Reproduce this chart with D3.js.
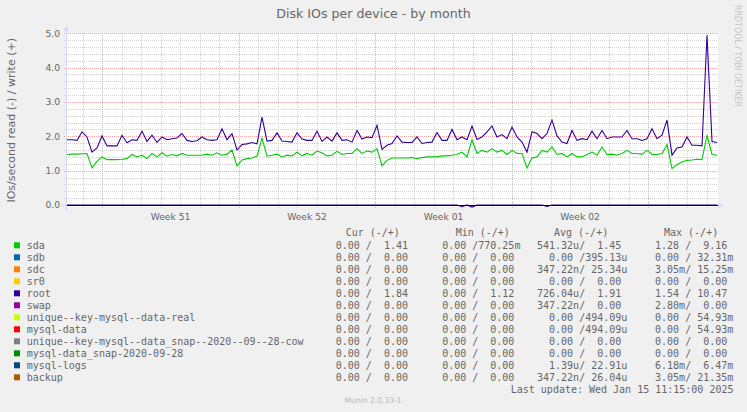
<!DOCTYPE html>
<html><head><meta charset="utf-8">
<script src="https://cdn.jsdelivr.net/npm/d3@7"></script>
<style>html,body{margin:0;padding:0;background:#F0F0F0;} svg{display:block;}</style>
</head><body><svg id="c" width="747" height="412"></svg>
<script>
const title = "Disk IOs per device - by month";
const yLabel = "IOs/second read (-) / write (+)";
const watermark = "RRDTOOL / TOBI OETIKER";
const version = "Munin 2.0.33-1";
const lastUpdate = "Last update: Wed Jan 15 11:15:00 2025";
const startTime = Date.UTC(2024, 11, 14, 4, 33);
const endTime = Date.UTC(2025, 0, 16, 12, 33);
const yTicks = [0, 1, 2, 3, 4, 5];
const yTickLabels = ["0.0", "1.0", "2.0", "3.0", "4.0", "5.0"];
const weekStarts = [Date.UTC(2024, 11, 16), Date.UTC(2024, 11, 23), Date.UTC(2024, 11, 30), Date.UTC(2025, 0, 6)];
const weekLabels = ["Week 51", "Week 52", "Week 01", "Week 02"];

// write (+) values, evenly spaced samples across the month
const sdaWrite = [
1.47,1.48,1.48,1.49,1.50,1.08,1.27,1.40,1.32,1.32,1.32,1.33,1.35,1.47,1.40,1.45,1.35,1.50,1.40,1.52,1.42,1.47,1.43,1.50,1.45,1.45,1.45,1.45,1.48,1.45,1.52,1.45,1.48,
1.60,1.14,1.31,1.35,1.37,1.42,1.95,1.42,1.45,1.48,1.40,1.45,1.43,1.54,1.43,1.50,1.45,1.57,1.52,1.43,1.45,1.56,1.47,1.50,1.50,1.64,1.50,1.57,1.54,1.64,1.14,1.30,1.37,
1.37,1.37,1.37,1.38,1.35,1.38,1.40,1.40,1.40,1.43,1.43,1.45,1.47,1.54,1.40,1.90,1.50,1.59,1.54,1.64,1.54,1.59,1.47,1.59,1.50,1.50,1.08,1.37,1.40,1.59,1.54,1.69,
1.47,1.50,1.40,1.50,1.40,1.40,1.47,1.54,1.45,1.69,1.47,1.48,1.45,1.50,1.59,1.50,1.50,1.48,1.59,1.47,1.47,1.50,1.76,1.06,1.18,1.25,1.30,1.31,1.33,1.32,2.03,1.47,1.45
];
const rootWrite = [
1.90,1.90,1.88,2.13,1.98,1.54,1.66,2.01,1.72,1.72,1.72,2.03,1.81,1.90,1.88,2.15,1.85,2.03,1.82,1.98,1.90,1.93,1.95,2.08,1.88,1.85,1.87,1.98,1.90,1.88,1.90,2.22,1.90,
2.08,1.60,1.76,1.78,1.82,1.78,2.56,1.86,1.88,2.10,1.86,1.85,1.83,2.10,1.92,1.88,1.88,2.15,1.85,1.98,1.86,2.10,1.88,1.90,1.83,2.17,1.92,1.98,1.96,2.32,1.62,1.74,1.79,
2.01,1.83,1.82,1.82,1.98,1.79,1.82,1.83,2.11,1.88,1.88,2.20,1.90,1.98,1.90,2.30,1.91,1.98,2.13,2.30,1.98,2.05,1.93,2.27,1.98,1.83,1.54,2.13,2.08,1.93,2.08,2.47,
2.01,1.83,1.79,2.17,1.88,1.93,1.90,2.15,1.93,2.17,1.93,1.98,1.98,1.98,2.17,1.93,1.93,1.88,1.93,2.22,1.93,2.03,2.47,1.45,1.66,1.69,1.98,1.74,1.74,1.72,4.94,1.85,1.82
];
// read (-) values: sample index, value (zero elsewhere)
const rootRead = [[79, 0.05], [81, 0.06], [96, 0.04]];

const devices = ["sda","sdb","sdc","sr0","root","swap","unique--key-mysql--data-real","mysql-data",
  "unique--key-mysql--data_snap--2020--09--28-cow","mysql-data_snap-2020-09-28","mysql-logs","backup"];
const colors = ["#00CC00","#0066B3","#FF8000","#FFCC00","#330099","#990099","#CCFF00","#FF0000",
  "#808080","#008F00","#00487D","#B35A00"];
const curRead  = [0,0,0,0,0,0,0,0,0,0,0,0];
const curWrite = [1.41,0,0,0,1.84,0,0,0,0,0,0,0];
const minRead  = [0,0,0,0,0,0,0,0,0,0,0,0];
const minWrite = [0.77025,0,0,0,1.12,0,0,0,0,0,0,0];
const avgRead  = [541.32e-6,0,347.22e-9,0,726.04e-6,347.22e-9,0,0,0,0,1.39e-6,347.22e-9];
const avgWrite = [1.45,395.13e-6,25.34e-6,0,1.91,0,494.09e-6,494.09e-6,0,0,22.91e-6,26.04e-6];
const maxRead  = [1.28,0,3.05e-3,0,1.54,2.80e-3,0,0,0,0,6.18e-3,3.05e-3];
const maxWrite = [9.16,32.31e-3,15.25e-3,0,10.47,0,54.93e-3,54.93e-3,0,0,6.47e-3,21.35e-3];
const statHeaders = ["Cur (-/+)","Min (-/+)","Avg (-/+)","Max (-/+)"];

const N = sdaWrite.length;
const times = d3.range(N).map(i => new Date(startTime + i * (endTime - startTime) / (N - 1)));

const svg = d3.select("#c");
const FONT = "#666666";
svg.append("rect").attr("width", 747).attr("height", 412).attr("fill", "#F0F0F0");

const x = d3.scaleUtc().domain([startTime, endTime]).range([67, 717]);
const y = d3.scaleLinear().domain([0, 5]).range([205, 33.2]);

svg.append("rect").attr("x", 67).attr("y", 33).attr("width", 651).attr("height", 174).attr("fill", "#fff");

const px = v => Math.round(v) + 0.5;
const MINOR = "#d2d2d2", MAJOR = "#EDA8A8";
// minor horizontal grid
const minorY = y.ticks(25).filter(v => Math.abs(v - Math.round(v)) > 1e-6);
svg.append("g").selectAll("line").data(minorY).join("line")
  .attr("x1", 64).attr("x2", 718).attr("y1", d => px(y(d))).attr("y2", d => px(y(d)))
  .attr("stroke", MINOR).attr("stroke-dasharray", "1,1");
// day grid
const days = d3.utcDay.range(new Date(startTime), new Date(endTime)).filter(d => d.getUTCDay() !== 1);
svg.append("g").selectAll("line").data(days).join("line")
  .attr("x1", d => px(x(d))).attr("x2", d => px(x(d))).attr("y1", 33).attr("y2", 208)
  .attr("stroke", MINOR).attr("stroke-dasharray", "1,1");
// major horizontal grid
svg.append("g").selectAll("line").data(yTicks).join("line")
  .attr("x1", 64).attr("x2", 718).attr("y1", d => px(y(d))).attr("y2", d => px(y(d)))
  .attr("stroke", MAJOR).attr("stroke-dasharray", "1,1");
// week grid
const mondays = d3.utcMonday.range(new Date(startTime), new Date(endTime));
svg.append("g").selectAll("line").data(mondays).join("line")
  .attr("x1", d => px(x(d))).attr("x2", d => px(x(d))).attr("y1", 33).attr("y2", 209)
  .attr("stroke", MAJOR).attr("stroke-dasharray", "1,1");

// axes (light blue)
const AX = "#CFD6F8";
svg.append("line").attr("x1", 66.5).attr("x2", 66.5).attr("y1", 211).attr("y2", 29).attr("stroke", AX);
svg.append("path").attr("d", "M64,31 L69,31 L66.5,25.5 Z").attr("fill", AX);
svg.append("line").attr("x1", 62).attr("x2", 720).attr("y1", 205.5).attr("y2", 205.5).attr("stroke", AX);
svg.append("path").attr("d", "M718,203 L718,208 L723.5,205.5 Z").attr("fill", AX);

// y tick labels
svg.append("g").selectAll("text").data(yTicks).join("text")
  .attr("x", 60).attr("y", d => y(d) + 3.3).attr("text-anchor", "end")
  .attr("font-family", "DejaVu Sans").attr("font-size", 9.2).attr("fill", FONT)
  .text((d, i) => yTickLabels[i]);
// week labels
svg.append("g").selectAll("text").data(weekStarts).join("text")
  .attr("x", d => x(d + 3.5 * 86400000)).attr("y", 220).attr("text-anchor", "middle")
  .attr("font-family", "DejaVu Sans").attr("font-size", 9.2).attr("fill", FONT)
  .text((d, i) => weekLabels[i]);

// series
const line = d3.line().x((d, i) => x(times[i])).y(d => y(d));
const rootReadFull = times.map(() => 0);
rootRead.forEach(([i, v]) => { rootReadFull[i] = v; });
svg.append("path").attr("d", line(rootReadFull.map(v => -v))).attr("fill", "none")
  .attr("stroke", colors[4]).attr("stroke-width", 1.2);
svg.append("line").attr("x1", 67).attr("x2", 718).attr("y1", px(y(0))).attr("y2", px(y(0))).attr("stroke", "#000");
svg.append("path").attr("d", line(sdaWrite)).attr("fill", "none").attr("stroke", colors[0]).attr("stroke-width", 1.1);
svg.append("path").attr("d", line(rootWrite)).attr("fill", "none").attr("stroke", colors[4]).attr("stroke-width", 1.1);

// title & labels
svg.append("text").attr("x", 373.5).attr("y", 18.3).attr("text-anchor", "middle")
  .attr("font-family", "DejaVu Sans").attr("font-size", 12.6).attr("fill", FONT).text(title);
svg.append("text").attr("transform", "translate(15.3,120.3) rotate(-90)").attr("text-anchor", "middle")
  .attr("font-family", "DejaVu Sans").attr("font-size", 11).attr("fill", FONT).text(yLabel);
svg.append("text").attr("transform", "translate(735,5) rotate(90)").attr("text-anchor", "start")
  .attr("font-family", "DejaVu Sans").attr("font-size", 8).attr("fill", "#c4c4c4")
  .attr("textLength", 102).attr("lengthAdjust", "spacingAndGlyphs").text(watermark);
svg.append("text").attr("x", 373).attr("y", 403.3).attr("text-anchor", "middle")
  .attr("font-family", "DejaVu Sans").attr("font-size", 7.6).attr("fill", "#b8b8b8").text(version);

// legend
function si(v) {
  if (v === 0) return "  0.00 ";
  const pref = [[1e-9, "n"], [1e-6, "u"], [1e-3, "m"], [1, " "], [1e3, "k"]];
  let p = pref[0];
  for (const q of pref) if (v >= q[0] * 0.9999999) p = q;
  return (v / p[0]).toFixed(2).padStart(6) + p[1];
}
const lg = svg.append("g").attr("font-family", "DejaVu Sans Mono").attr("font-size", 10).attr("fill", FONT);
const headerX = [345.7, 455.7, 554, 664];
lg.selectAll("text.h").data(statHeaders).join("text").attr("class", "h")
  .attr("x", (d, i) => headerX[i]).attr("y", 236).text(d => d);
const colX = [323.7, 430.1, 537, 643];
const stats = [[curRead, curWrite], [minRead, minWrite], [avgRead, avgWrite], [maxRead, maxWrite]];
devices.forEach((name, r) => {
  const by = 249 + 12 * r;
  lg.append("rect").attr("x", 14).attr("y", by - 6.7).attr("width", 6).attr("height", 6).attr("fill", colors[r]);
  lg.append("text").attr("x", 26.7).attr("y", by).text(name);
  stats.forEach(([rd, wr], c) => {
    lg.append("text").attr("x", colX[c]).attr("y", by)
      .attr("xml:space", "preserve").style("white-space", "pre")
      .text(si(rd[r]) + "/" + si(wr[r]));
  });
});
lg.append("text").attr("x", 733.5).attr("y", 393.3).attr("text-anchor", "end")
  .attr("xml:space", "preserve").style("white-space", "pre").text(lastUpdate);
</script></body></html>
